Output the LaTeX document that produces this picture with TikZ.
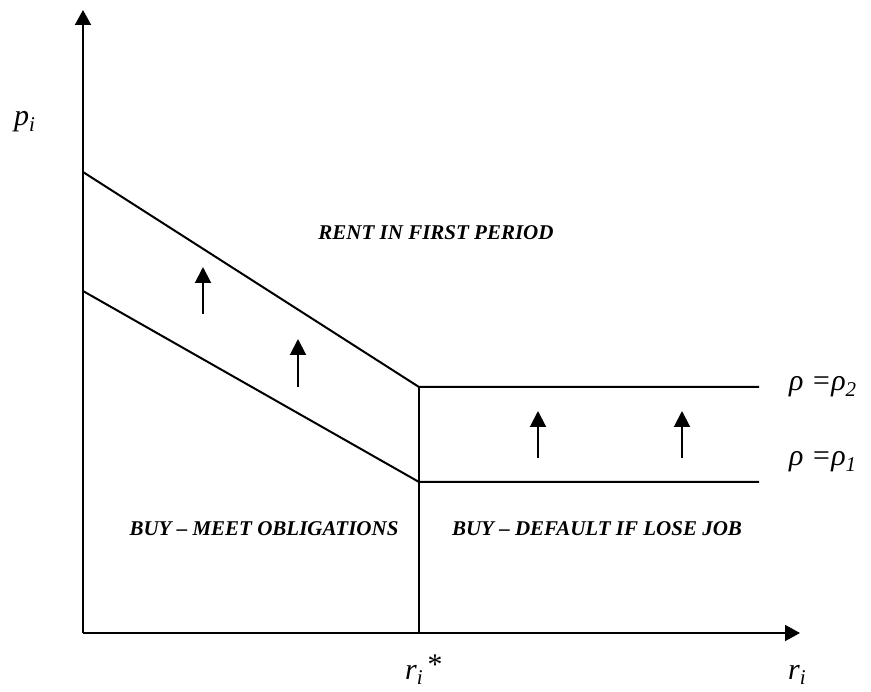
\documentclass[tikz,border=0pt]{standalone}
\usepackage{fontspec}
\setmainfont{Liberation Serif}
\usetikzlibrary{arrows.meta}
\tikzset{
  axis/.style={line width=2pt,-{Triangle[width=16pt,length=15pt]}},
  bound/.style={line width=2pt},
  uparrow/.style={line width=2pt,-{Triangle[width=16pt,length=16pt]}},
  region/.style={font=\fontsize{21}{23}\selectfont\bfseries\itshape,inner sep=0pt},
  sym/.style={font=\fontsize{30}{32}\selectfont\itshape,inner sep=0pt,anchor=base west},
}
\begin{document}
\begin{tikzpicture}[x=1pt,y=-1pt]
\useasboundingbox (0,0) rectangle (871,692);
% axes
\coordinate (O) at (83,633);
\coordinate (ytip) at (83,10);
\coordinate (xtip) at (800,633);
\draw[axis] (O) -- (ytip);
\draw[axis] (O) -- (xtip);
% boundaries
\coordinate (u0) at (83,172);
\coordinate (uk) at (419,387);
\coordinate (ue) at (759,387);
\coordinate (l0) at (83,291);
\coordinate (lk) at (419,482);
\coordinate (le) at (759,482);
\coordinate (vb) at (419,633);
\draw[bound] (u0) -- (uk) -- (ue);
\draw[bound] (l0) -- (lk) -- (le);
\draw[bound] (uk) -- (vb);
% shift arrows
\coordinate (a1s) at (203,314); \coordinate (a1e) at (203,267);
\coordinate (a2s) at (298,387); \coordinate (a2e) at (298,339);
\coordinate (a3s) at (538,458); \coordinate (a3e) at (538,411);
\coordinate (a4s) at (682,458); \coordinate (a4e) at (682,411);
\draw[uparrow] (a1s) -- (a1e);
\draw[uparrow] (a2s) -- (a2e);
\draw[uparrow] (a3s) -- (a3e);
\draw[uparrow] (a4s) -- (a4e);
% labels
\node[sym] (py) at (14,126) {p\textsubscript{i}};
\node[sym] (rx) at (788,679) {r\textsubscript{i}};
\node[sym] (rs) at (405,679) {r\textsubscript{i}\hspace{3pt}\raisebox{5pt}{*}};
\node[sym] (rho2) at (789,391) {ρ =ρ\textsubscript{2}};
\node[sym] (rho1) at (789,466) {ρ =ρ\textsubscript{1}};
\node[region] (rent) at (436,233) {RENT IN FIRST PERIOD};
\node[region] (meet) at (264,529) {BUY – MEET OBLIGATIONS};
\node[region] (def) at (597,529) {BUY – DEFAULT IF LOSE JOB};
\end{tikzpicture}
\end{document}
